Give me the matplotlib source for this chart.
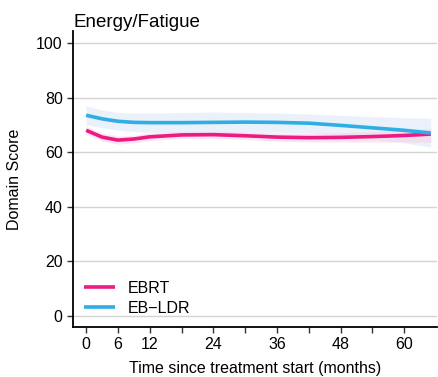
import matplotlib
matplotlib.use("Agg")
import matplotlib.pyplot as plt
import numpy as np

plt.rcParams['font.family'] = ['Liberation Sans', 'DejaVu Sans']

# months since treatment start
months = [0, 3, 6, 9, 12, 18, 24, 30, 36, 42, 48, 54, 60, 65]

# EBRT smoothed mean and band
ebrt = [68.0, 65.5, 64.4, 64.8, 65.6, 66.3, 66.4, 66.0, 65.5, 65.3, 65.4, 65.7, 66.1, 66.6]
ebrt_hi = [69.5, 67.0, 65.9, 66.2, 67.0, 67.6, 67.7, 67.4, 67.0, 66.9, 67.1, 67.6, 68.2, 68.6]
ebrt_lo = [66.5, 64.0, 62.9, 63.4, 64.2, 65.0, 65.1, 64.6, 64.0, 63.7, 63.7, 63.7, 63.7, 63.6]

# EB-LDR smoothed mean and band
ebldr = [73.5, 72.2, 71.3, 70.9, 70.8, 70.8, 70.9, 71.0, 70.9, 70.6, 69.8, 68.9, 68.0, 67.0]
ebldr_hi = [77.0, 75.5, 74.5, 74.3, 74.3, 74.5, 74.7, 74.5, 74.3, 74.0, 73.5, 73.0, 72.6, 72.4]
ebldr_lo = [70.0, 69.0, 68.0, 67.5, 67.3, 67.2, 67.2, 67.3, 67.3, 67.0, 66.0, 64.8, 63.4, 61.8]

xticks = [0, 6, 12, 18, 24, 30, 36, 42, 48, 54, 60]
xticklabels = ['0', '6', '12', '', '24', '', '36', '', '48', '', '60']
yticks = [0, 20, 40, 60, 80, 100]

pink = '#EC1A82'
blue = '#2EAEE4'

fig = plt.figure(figsize=(4.38, 3.77), dpi=100)
ax = fig.add_axes([0.167, 0.133, 0.831, 0.785])

ax.fill_between(months, ebldr_lo, ebldr_hi, color='#DCE9F8', alpha=0.6, lw=0)
ax.fill_between(months, ebrt_lo, ebrt_hi, color='#F9CDE4', alpha=0.5, lw=0)
ax.plot(months, ebrt, color=pink, lw=2.6, label='EBRT', solid_capstyle='butt')
ax.plot(months, ebldr, color=blue, lw=2.6, label='EB\u2212LDR', solid_capstyle='butt')

ax.set_xlim(-2.45, 66.2)
ax.set_ylim(-4, 104.4)
ax.set_xticks(xticks)
ax.set_xticklabels(xticklabels)
ax.set_yticks(yticks)
ax.yaxis.grid(True, color='#D3D3D3', lw=1)
ax.set_axisbelow(True)
for s in ['top', 'right']:
    ax.spines[s].set_visible(False)
ax.spines['left'].set_linewidth(1.3)
ax.spines['bottom'].set_linewidth(1.3)
ax.tick_params(labelsize=11.5, length=4, width=1, color='#333333')

ax.set_title('Energy/Fatigue', loc='left', fontsize=13.5, pad=3)
ax.set_ylabel('Domain Score', fontsize=11.5, labelpad=10)
ax.set_xlabel('Time since treatment start (months)', fontsize=11.5, labelpad=6)
ax.legend(loc='lower left', frameon=False, fontsize=11.5, handlelength=1.9,
          borderaxespad=0.3, labelspacing=0.3)

fig.savefig('out.png', dpi=100)
